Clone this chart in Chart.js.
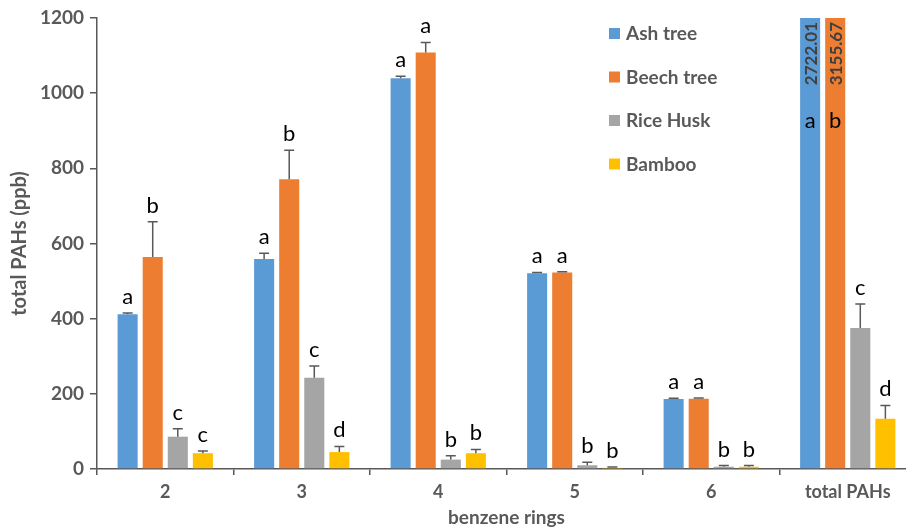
<!DOCTYPE html>
<html>
<head>
<meta charset="utf-8">
<script src="https://cdn.jsdelivr.net/npm/chart.js@4/dist/chart.umd.min.js"></script>
<style>
  html, body { margin: 0; padding: 0; background: #fff; overflow: hidden; }
  #wrap { width: 920px; height: 529px; position: relative; }
</style>
</head>
<body>
<div id="wrap"><canvas id="chart"></canvas></div>
<script>
var categories = ['2', '3', '4', '5', '6', 'total PAHs'];
var seriesNames = ['Ash tree', 'Beech tree', 'Rice Husk', 'Bamboo'];

var ash = [412, 559, 1040, 521, 186, 2722.01];
var beech = [564, 771, 1108, 523, 187, 3155.67];
var riceHusk = [86, 243, 25, 10, 6, 375];
var bamboo = [42, 45, 42, 3, 6, 134];

var ashErr = [3, 15, 5, 2, 2, 0];
var beechErr = [94, 77, 27, 2, 2, 0];
var riceHuskErr = [21, 31, 10, 8, 3, 64];
var bambooErr = [6, 15, 10, 2, 3, 35];

var ashLetters = ['a', 'a', 'a', 'a', 'a', 'a'];
var beechLetters = ['b', 'b', 'a', 'a', 'a', 'b'];
var riceHuskLetters = ['c', 'c', 'b', 'b', 'b', 'c'];
var bambooLetters = ['c', 'd', 'b', 'b', 'b', 'd'];

var colors = ['#5B9BD5', '#ED7D31', '#A5A5A5', '#FFC000'];
var values = [ash, beech, riceHusk, bamboo];
var errors = [ashErr, beechErr, riceHuskErr, bambooErr];
var letters = [ashLetters, beechLetters, riceHuskLetters, bambooLetters];

var gray = '#595959';
var font = 'Lato, "Open Sans", sans-serif';
var yMax = 1200;

var datasets = [];
for (var i = 0; i < values.length; i++) {
    datasets.push({
        label: seriesNames[i],
        data: values[i],
        backgroundColor: colors[i],
        borderWidth: 0,
        barPercentage: 0.8,
        categoryPercentage: 0.735
    });
}

// error bars (upper only), significance letters and clipped-value labels
var extrasPlugin = {
    id: 'extras',
    afterDatasetsDraw: function(chart) {
        var ctx = chart.ctx;
        var y = chart.scales.y;
        ctx.save();
        chart.data.datasets.forEach(function(ds, di) {
            var meta = chart.getDatasetMeta(di);
            meta.data.forEach(function(bar, j) {
                var v = ds.data[j];
                var e = errors[di][j];
                var x = bar.x;
                if (v > yMax) {
                    // value too tall: rotated number inside bar top, letter below it
                    ctx.save();
                    ctx.translate(x, y.top + 4);
                    ctx.rotate(-Math.PI / 2);
                    ctx.fillStyle = '#404040';
                    ctx.font = 'bold 17px ' + font;
                    ctx.textAlign = 'right';
                    ctx.textBaseline = 'middle';
                    ctx.fillText(v.toFixed(2), 0, 1);
                    ctx.restore();
                    ctx.fillStyle = '#000';
                    ctx.font = '22px ' + font;
                    ctx.textAlign = 'center';
                    ctx.textBaseline = 'alphabetic';
                    ctx.fillText(letters[di][j], x, y.top + 110);
                    return;
                }
                var yv = y.getPixelForValue(v);
                var ye = y.getPixelForValue(v + e);
                ctx.strokeStyle = gray;
                ctx.lineWidth = 1.5;
                ctx.beginPath();
                ctx.moveTo(x, yv);
                ctx.lineTo(x, ye);
                ctx.moveTo(x - 5, ye);
                ctx.lineTo(x + 5, ye);
                ctx.stroke();
                ctx.fillStyle = '#000';
                ctx.font = '22px ' + font;
                ctx.textAlign = 'center';
                ctx.textBaseline = 'alphabetic';
                ctx.fillText(letters[di][j], x, ye - 9);
            });
        });

        // legend
        var lx = 609, ly = 33, step = 43.5;
        ctx.font = 'bold 19px ' + font;
        ctx.textAlign = 'left';
        ctx.textBaseline = 'middle';
        seriesNames.forEach(function(name, k) {
            ctx.fillStyle = colors[k];
            ctx.fillRect(lx, ly + k * step - 5, 11, 11);
            ctx.fillStyle = gray;
            ctx.fillText(name, lx + 17, ly + k * step + 1);
        });
        ctx.restore();
    }
};

new Chart(document.getElementById('chart'), {
    type: 'bar',
    data: { labels: categories, datasets: datasets },
    options: {
        responsive: true,
        maintainAspectRatio: false,
        animation: false,
        layout: { padding: { top: 18, right: 4, left: 0, bottom: 0 } },
        plugins: {
            legend: { display: false },
            tooltip: { enabled: false }
        },
        scales: {
            x: {
                offset: true,
                grid: {
                    offset: true,
                    drawOnChartArea: false,
                    drawTicks: true,
                    tickLength: 6,
                    color: gray,
                    lineWidth: 1.5
                },
                border: { color: gray, width: 1.5 },
                ticks: {
                    color: gray,
                    font: { family: font, size: 18, weight: 'bold' },
                    padding: 6
                },
                title: {
                    display: true,
                    text: 'benzene rings',
                    color: gray,
                    font: { family: font, size: 19, weight: 'bold' },
                    padding: { top: 0, bottom: 0 }
                },
                afterFit: function(s) { s.height = 60; }
            },
            y: {
                min: 0,
                max: yMax,
                grid: {
                    drawOnChartArea: false,
                    drawTicks: true,
                    tickLength: 7,
                    color: gray,
                    lineWidth: 1.5
                },
                border: { color: gray, width: 1.5 },
                ticks: {
                    stepSize: 200,
                    color: gray,
                    font: { family: font, size: 19, weight: 'bold' },
                    padding: 6,
                    callback: function(v) { return String(v); }
                },
                title: {
                    display: true,
                    text: 'total PAHs (ppb)',
                    color: gray,
                    font: { family: font, size: 20, weight: 'bold' },
                    padding: { top: 8, bottom: 0 }
                },
                afterFit: function(s) { s.width = 97; }
            }
        }
    },
    plugins: [extrasPlugin]
});
</script>
</body>
</html>
